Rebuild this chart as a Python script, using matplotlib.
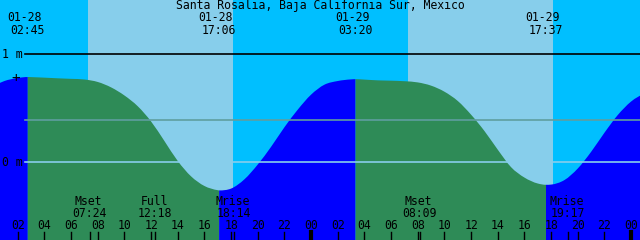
import numpy as np
import matplotlib
matplotlib.use('Agg')
import matplotlib.pyplot as plt
import matplotlib.transforms as mtransforms
from matplotlib.path import Path
from matplotlib.patches import PathPatch

# hours counted from 01-28 00:00
hours = list(range(0, 50))
heights = [0.697, 0.753, 0.781, 0.789, 0.784, 0.778, 0.773, 0.767, 0.744, 0.694,
           0.619, 0.519, 0.378, 0.197, 0.012, -0.130, -0.219, -0.258, -0.243, -0.157,
           -0.020, 0.144, 0.325, 0.488, 0.627, 0.719, 0.753, 0.768, 0.766, 0.759,
           0.756, 0.751, 0.740, 0.710, 0.654, 0.568, 0.441, 0.290, 0.117, -0.045,
           -0.141, -0.196, -0.206, -0.164, -0.057, 0.097, 0.274, 0.438, 0.563, 0.642]

tide_dates = ['01-28', '01-28', '01-29', '01-29']
tide_times = ['02:45', '17:06', '03:20', '17:37']
tide_levels = [0.790, -0.260, 0.770, -0.208]

sun_rise = ['01-28 07:16', '01-29 07:16']
sun_set = ['01-28 18:08', '01-29 18:09']

moon_names = ['Mset', 'Full', 'Mrise', 'Mset', 'Mrise']
moon_dates = ['01-28', '01-28', '01-28', '01-29', '01-29']
moon_times = ['07:24', '12:18', '18:14', '08:09', '19:17']

title = 'Santa Rosalia, Baja California Sur, Mexico'
mean_level = 0.389
t0, t1 = 0.667, 48.667
h0, h1 = -0.719, 1.503

night = '#00bfff'
day = '#87ceeb'
rising = '#0000ff'
falling = '#2e8b57'


def to_hours(date, hm):
    d = int(date.split('-')[1]) - 28
    hh, mm = hm.split(':')
    return d * 24 + int(hh) + int(mm) / 60


tide_x = [to_hours(d, t) for d, t in zip(tide_dates, tide_times)]
moon_x = [to_hours(d, t) for d, t in zip(moon_dates, moon_times)]
rise_x = [to_hours(*s.split()) for s in sun_rise]
set_x = [to_hours(*s.split()) for s in sun_set]

# merge extremes into the hourly curve
pts = sorted(zip(hours + tide_x, heights + tide_levels))
xs = np.array([p[0] for p in pts])
ys = np.array([p[1] for p in pts])

# slopes for a smooth (bezier) outline, flat at highs and lows
slope = np.gradient(ys, xs)
for x in tide_x:
    slope[np.argmin(abs(xs - x))] = 0.0


def water_path(i0, i1):
    verts = [(xs[i0], ys[i0])]
    codes = [Path.MOVETO]
    for i in range(i0, i1):
        dx = xs[i + 1] - xs[i]
        verts += [(xs[i] + dx / 3, ys[i] + slope[i] * dx / 3),
                  (xs[i + 1] - dx / 3, ys[i + 1] - slope[i + 1] * dx / 3),
                  (xs[i + 1], ys[i + 1])]
        codes += [Path.CURVE4] * 3
    verts += [(xs[i1], h0), (xs[i0], h0), (xs[i0], ys[i0])]
    codes += [Path.LINETO, Path.LINETO, Path.CLOSEPOLY]
    return Path(verts, codes)


plt.rcParams['font.family'] = 'DejaVu Sans Mono'
fs = 8.3

fig = plt.figure(figsize=(6.4, 2.4), dpi=100)
ax = fig.add_axes([0, 0, 1, 1])
ax.set_xlim(t0, t1)
ax.set_ylim(h0, h1)
ax.axis('off')

# sky
ax.axvspan(t0, t1, color=night, lw=0, zorder=0)
for r, s in zip(rise_x, set_x):
    ax.axvspan(r, s, color=day, lw=0, zorder=0)

# water, split at each high / low: green while falling, blue while rising
idx = [0] + [int(np.argmin(abs(xs - x))) for x in tide_x] + [len(xs) - 1]
for k in range(len(idx) - 1):
    if k == 0:
        is_fall = tide_levels[0] < 0
    else:
        is_fall = tide_levels[k - 1] > 0
    ax.add_patch(PathPatch(water_path(idx[k], idx[k + 1]),
                           facecolor=falling if is_fall else rising,
                           lw=0, zorder=1))

# level lines
xmin = 25 / 640
ax.axhline(1, xmin=xmin, color='black', lw=1.2, zorder=2)
ax.axhline(0, xmin=xmin, color=day, lw=1.2, zorder=2)
ax.axhline(mean_level, xmin=xmin, color='#5f9ea0', lw=1.2, zorder=2)

yt = mtransforms.blended_transform_factory(ax.transAxes, ax.transData)
ax.text(2 / 640, 1, '1 m', transform=yt, fontsize=fs, va='center', ha='left')
ax.text(2 / 640, 0, '0 m', transform=yt, fontsize=fs, va='center', ha='left')
ax.text(1.85, 0.78, '+', fontsize=fs + 2, va='center', ha='center')

xt = mtransforms.blended_transform_factory(ax.transData, ax.transAxes)
ax.text((t0 + t1) / 2, 0.978, title, transform=xt, fontsize=fs,
        ha='center', va='center')
for x, d, t in zip(tide_x, tide_dates, tide_times):
    ax.text(x - 0.25, 0.926, d, transform=xt, fontsize=fs, ha='center', va='center')
    ax.text(x, 0.873, t, transform=xt, fontsize=fs, ha='center', va='center')

for x, n, t in zip(moon_x, moon_names, moon_times):
    ax.text(x - 0.08, 0.16, n, transform=xt, fontsize=fs, ha='center', va='center')
    ax.text(x, 0.111, t, transform=xt, fontsize=fs, ha='center', va='center')
    ax.plot([x, x], [0, 0.033], transform=xt, color='black', lw=1, zorder=3)

for h in range(2, 49, 2):
    ax.text(h, 0.06, f'{h % 24:02d}', transform=xt, fontsize=fs,
            ha='center', va='center')
    ax.plot([h, h], [0, 0.033], transform=xt, color='black',
            lw=3 if h % 24 == 0 else 1, zorder=3)

fig.savefig('out.png', dpi=100)
